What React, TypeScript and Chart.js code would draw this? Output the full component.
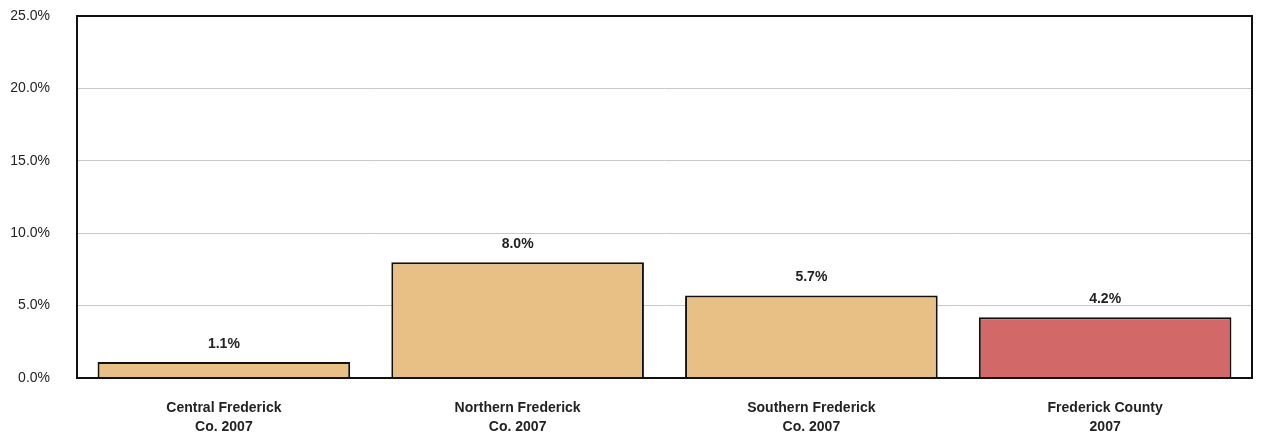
import React, { useEffect, useRef } from "react";
import { Chart, registerables } from "chart.js";

Chart.register(...registerables);

const categories: string[][] = [
  ["Central Frederick", "Co. 2007"],
  ["Northern Frederick", "Co. 2007"],
  ["Southern Frederick", "Co. 2007"],
  ["Frederick County", "2007"],
];
const values: number[] = [1.1, 8.0, 5.7, 4.2];
const barColors: string[] = ["#E8BF84", "#E8BF84", "#E8BF84", "#D26868"];
const yMin = 0;
const yMax = 25;
const yStep = 5;

const FONT = "'Liberation Sans Narrow', 'Arial Narrow', 'Liberation Sans', Arial, sans-serif";

const framePlugin = {
  id: "frame",
  afterDatasetsDraw(chart: any) {
    const { ctx, chartArea } = chart;
    ctx.save();
    ctx.strokeStyle = "#111";
    ctx.lineWidth = 2;
    ctx.strokeRect(chartArea.left, chartArea.top, chartArea.right - chartArea.left, chartArea.bottom - chartArea.top);
    ctx.restore();
  },
};

const labelPlugin = {
  id: "valueLabels",
  afterDatasetsDraw(chart: any) {
    const { ctx } = chart;
    const meta = chart.getDatasetMeta(0);
    ctx.save();
    ctx.font = `bold 14px ${FONT}`;
    ctx.fillStyle = "#222";
    ctx.textAlign = "center";
    ctx.textBaseline = "bottom";
    meta.data.forEach((bar: any, i: number) => {
      ctx.fillText(values[i].toFixed(1) + "%", bar.x, bar.y - 11);
    });
    ctx.restore();
  },
};

export default function App() {
  const ref = useRef<HTMLCanvasElement>(null);
  useEffect(() => {
    document.body.style.margin = "0";
    const chart = new Chart(ref.current!, {
      type: "bar",
      data: {
        labels: categories,
        datasets: [
          {
            data: values,
            backgroundColor: barColors,
            borderColor: "#111",
            borderWidth: 2,
            barPercentage: 0.86,
            categoryPercentage: 1,
          },
        ],
      },
      options: {
        animation: false,
        responsive: false,
        maintainAspectRatio: false,
        layout: { padding: { top: 16, right: 13, left: 0, bottom: 0 } },
        plugins: { legend: { display: false }, tooltip: { enabled: false }, title: { display: false } },
        scales: {
          x: {
            grid: { display: false, drawTicks: false },
            border: { display: false },
            ticks: {
              color: "#222",
              font: { family: FONT, size: 14, weight: "bold", lineHeight: 1.4 },
              padding: 20,
              maxRotation: 0,
              autoSkip: false,
            },
            afterFit(scale: any) {
              scale.height = 63;
            },
          },
          y: {
            min: yMin,
            max: yMax,
            ticks: {
              stepSize: yStep,
              color: "#222",
              font: { family: FONT, size: 14 },
              padding: 27,
              callback: (v: any) => Number(v).toFixed(1) + "%",
            },
            grid: { color: "#c8c8c8", drawTicks: false, lineWidth: 1 },
            border: { display: false },
            afterFit(scale: any) {
              scale.width = 77;
              scale.paddingTop = 0;
              scale.paddingBottom = 0;
            },
          },
        },
      },
      plugins: [framePlugin, labelPlugin],
    });
    return () => chart.destroy();
  }, []);
  return (
    <div style={{ width: 1265, height: 441 }}>
      <canvas ref={ref} width={1265} height={441} style={{ display: "block" }} />
    </div>
  );
}
